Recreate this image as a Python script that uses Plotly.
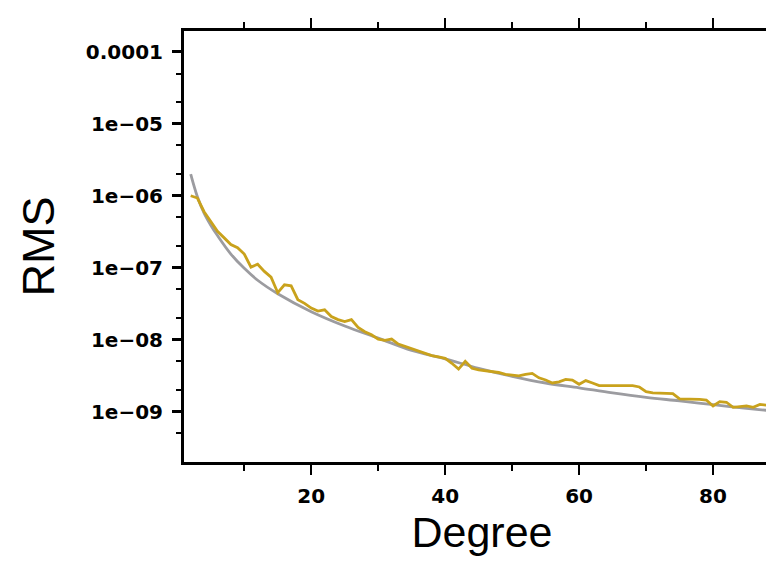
import plotly.graph_objects as go

# ---- data ----
gold_degree = list(range(2, 91))
gold_rms = [
    1.0e-6, 9.3e-7, 6.0e-7, 4.3e-7, 3.2e-7, 2.6e-7, 2.1e-7, 1.9e-7, 1.55e-7,
    1.02e-7, 1.12e-7, 8.9e-8, 7.4e-8, 4.5e-8, 5.8e-8, 5.6e-8, 3.6e-8, 3.2e-8,
    2.75e-8, 2.5e-8, 2.6e-8, 2.1e-8, 1.9e-8, 1.78e-8, 1.9e-8, 1.48e-8, 1.29e-8,
    1.17e-8, 1.02e-8, 9.8e-9, 1.02e-8, 8.7e-9, 8.1e-9, 7.6e-9, 6.9e-9, 6.5e-9,
    6.0e-9, 5.75e-9, 5.5e-9, 4.7e-9, 3.9e-9, 5.0e-9, 4.0e-9, 3.8e-9, 3.7e-9,
    3.6e-9, 3.5e-9, 3.3e-9, 3.25e-9, 3.15e-9, 3.3e-9, 3.4e-9, 2.95e-9, 2.75e-9,
    2.5e-9, 2.6e-9, 2.8e-9, 2.75e-9, 2.4e-9, 2.7e-9, 2.5e-9, 2.3e-9, 2.3e-9,
    2.3e-9, 2.3e-9, 2.3e-9, 2.3e-9, 2.2e-9, 1.9e-9, 1.82e-9, 1.82e-9, 1.78e-9,
    1.78e-9, 1.5e-9, 1.5e-9, 1.48e-9, 1.48e-9, 1.45e-9, 1.2e-9, 1.38e-9,
    1.35e-9, 1.15e-9, 1.17e-9, 1.2e-9, 1.15e-9, 1.26e-9, 1.23e-9, 1.26e-9,
    1.26e-9,
]

gray_degree = [2, 3, 4, 5, 6, 8, 10, 12, 15, 20, 25, 30, 35, 40, 45, 50, 55,
               60, 65, 70, 75, 80, 85, 90]
gray_rms = [2.0e-6, 9.7e-7, 5.75e-7, 3.9e-7, 2.8e-7, 1.55e-7, 9.8e-8, 6.7e-8,
            4.35e-8, 2.45e-8, 1.55e-8, 1.05e-8, 7.1e-9, 5.4e-9, 4.0e-9, 3.1e-9,
            2.5e-9, 2.14e-9, 1.82e-9, 1.58e-9, 1.41e-9, 1.25e-9, 1.11e-9, 1.0e-9]

x_tickvals = [20, 40, 60, 80]
x_ticktext = ["20", "40", "60", "80"]
x_minor = [10, 30, 50, 70, 90]

y_tickvals = [1e-9, 1e-8, 1e-7, 1e-6, 1e-5, 1e-4]
y_ticktext = ["1e\u221209", "1e\u221208", "1e\u221207", "1e\u221206", "1e\u221205", "0.0001"]
y_minor = [5e-10, 2e-9, 5e-9, 2e-8, 5e-8, 2e-7, 5e-7, 2e-6, 5e-6, 2e-5, 5e-5]

GOLD = "#C9A21C"
GRAY = "#9C9CA0"

fig = go.Figure()
fig.add_trace(go.Scatter(x=gray_degree, y=gray_rms, mode="lines",
                         line=dict(color=GRAY, width=2.8, shape="spline"),
                         showlegend=False))
fig.add_trace(go.Scatter(x=gold_degree, y=gold_rms, mode="lines",
                         line=dict(color=GOLD, width=2.8),
                         showlegend=False))

tick_font = dict(family="DejaVu Sans", size=20, color="black", weight="bold")
title_font = dict(family="Liberation Sans", size=45, color="black")
xtitle_font = dict(family="Liberation Sans", size=43, color="black")

fig.update_layout(
    width=774, height=562,
    margin=dict(l=176, r=2, t=23, b=108),
    paper_bgcolor="white", plot_bgcolor="white",
    xaxis=dict(
        range=[1, 90], showgrid=False, zeroline=False, automargin=False,
        showline=True, linewidth=3, linecolor="black", mirror="ticks",
        tickmode="array", tickvals=x_tickvals, ticktext=x_ticktext,
        ticks="outside", ticklen=10, tickwidth=1.5, tickcolor="black",
        tickfont=tick_font, ticklabelstandoff=4,
        minor=dict(tickmode="array", tickvals=x_minor, ticks="outside",
                   ticklen=6, tickwidth=1.5, tickcolor="black", showgrid=False),
        title=dict(text="Degree", font=xtitle_font, standoff=10),
    ),
    yaxis=dict(
        type="log", range=[-9.7, -3.71], showgrid=False, zeroline=False,
        automargin=False,
        showline=True, linewidth=3, linecolor="black", mirror="ticks",
        tickmode="array", tickvals=y_tickvals, ticktext=y_ticktext,
        ticks="outside", ticklen=9, tickwidth=3, tickcolor="black",
        tickfont=tick_font, ticklabelstandoff=5,
        minor=dict(tickmode="array", tickvals=y_minor, ticks="outside",
                   ticklen=5, tickwidth=1.5, tickcolor="black", showgrid=False),
        title=dict(text="RMS", font=title_font, standoff=18),
    ),
)

fig.write_html("out.html")
